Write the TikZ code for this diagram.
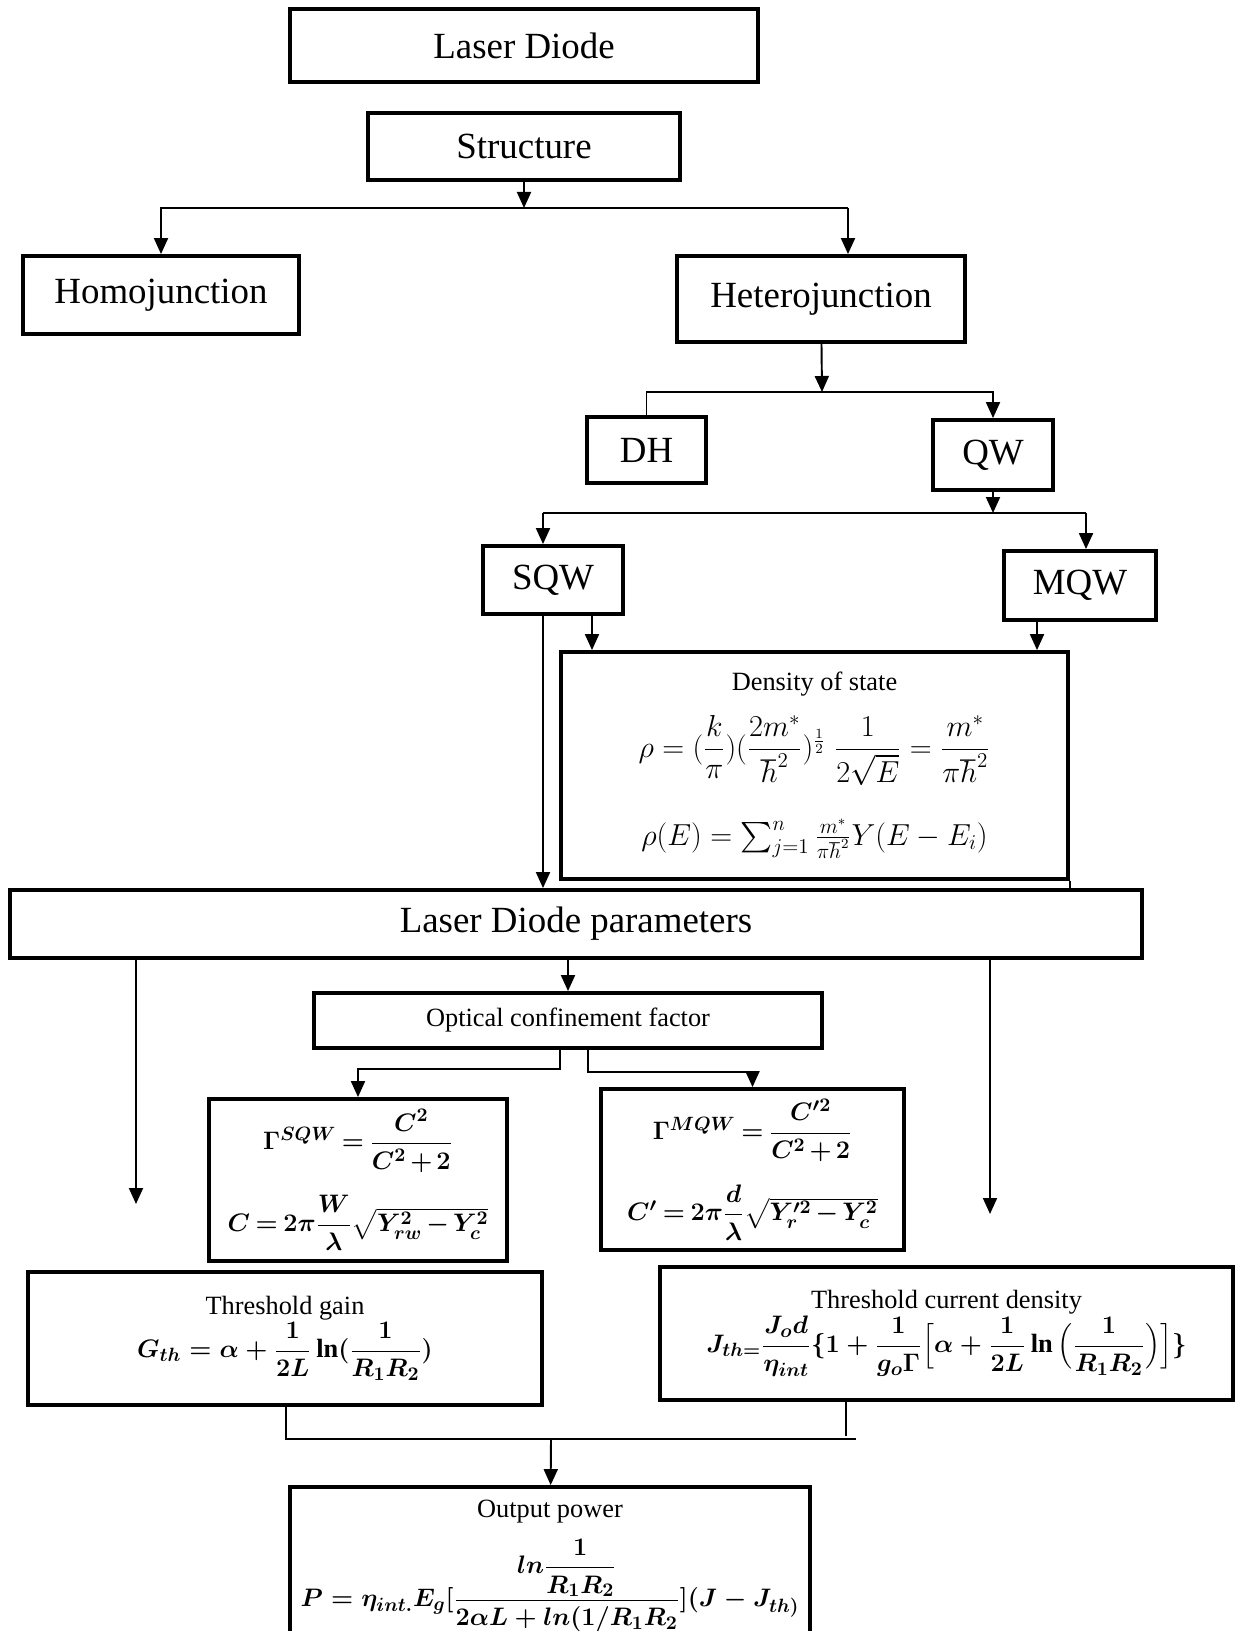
\documentclass[tikz,border=0pt]{standalone}
\usepackage{amsmath}
\usepackage{fontspec}
\setmainfont{Liberation Serif}
\usetikzlibrary{arrows.meta}

\begin{document}
\begin{tikzpicture}[
    x=0.02cm, y=-0.02cm,
    >={Triangle[length=0.32cm,width=0.28cm]},
    blk/.style={draw,line width=2.2pt,inner sep=0pt,font=\fontsize{21}{25}\selectfont},
    frm/.style={draw,line width=2.2pt,inner sep=0pt,align=center,font=\fontsize{15}{18}\selectfont},
    bfrm/.style={frm,font=\fontsize{15}{18}\selectfont\boldmath},
    tight/.style={execute at begin node={\medmuskip=2.5mu\thickmuskip=3.5mu}},
    flow/.style={->,line width=1.1pt},
    wire/.style={line width=1.1pt}
  ]
  \useasboundingbox (0,0) rectangle (1240,1631);
  \clip (0,0) rectangle (1240,1631);

  \node[blk,minimum width=9.36cm,minimum height=1.46cm] (laser) at (524,45.5) {Laser Diode};
  \node[blk,minimum width=6.24cm,minimum height=1.34cm] (struct) at (524,146.5) {Structure};
  \node[blk,minimum width=5.52cm,minimum height=1.56cm] (homo) at (161,295) {Homojunction};
  \node[blk,minimum width=5.76cm,minimum height=1.72cm] (hetero) at (821,299) {Heterojunction};
  \node[blk,minimum width=2.38cm,minimum height=1.32cm] (dh) at (646.5,450) {DH};
  \node[blk,minimum width=2.40cm,minimum height=1.40cm] (qw) at (993,455) {QW};
  \node[blk,minimum width=2.80cm,minimum height=1.36cm] (sqw) at (553,580) {SQW};
  \node[blk,minimum width=3.04cm,minimum height=1.38cm] (mqw) at (1080,585.5) {MQW};

  \node[frm,minimum width=10.14cm,minimum height=4.54cm] (dos) at (814.5,765.5) {Density of state\\[10pt]
    {\fontsize{17}{20}\selectfont$\rho=(\dfrac{k}{\pi})(\dfrac{2m^*}{\hbar^2})^{\frac{1}{2}}\;\dfrac{1}{2\sqrt{E}}=\dfrac{m^*}{\pi\hbar^2}$}\\[18pt]
    {\fontsize{17}{20}\selectfont$\rho(E)=\textstyle\sum_{j=1}^{n}\frac{m^*}{\pi\hbar^2}Y(E-E_i)$}};

  \node[blk,minimum width=22.64cm,minimum height=1.36cm] (ldp) at (576,924) {Laser Diode parameters};
  \node[frm,minimum width=10.16cm,minimum height=1.10cm] (ocf) at (568,1020.5) {Optical confinement factor};

  \node[bfrm,tight,minimum width=5.96cm,minimum height=3.24cm] (gsqw) at (358,1180) {%
    $\Gamma^{SQW}=\dfrac{C^2}{C^2+2}$\\[12pt]
    $C=2\pi\dfrac{W}{\lambda}\sqrt{Y_{rw}^2-Y_c^2}$};
  \node[bfrm,tight,minimum width=6.06cm,minimum height=3.22cm] (gmqw) at (752.5,1169.5) {%
    $\Gamma^{MQW}=\dfrac{C'^2}{C^2+2}$\\[12pt]
    $C'=2\pi\dfrac{d}{\lambda}\sqrt{Y_r'^2-Y_c^2}$};

  \node[bfrm,minimum width=10.28cm,minimum height=2.66cm] (gth) at (285,1338.5) {Threshold gain\\
    $G_{th}=\alpha+\dfrac{1}{2L}\ln(\dfrac{1}{R_1R_2})$};
  \node[bfrm,minimum width=11.46cm,minimum height=2.66cm] (jth) at (946.5,1333.5) {Threshold current density\\
    $J_{th=}\dfrac{J_od}{\eta_{int}}\{1+\dfrac{1}{g_o\Gamma}\Big[\alpha+\dfrac{1}{2L}\ln\Big(\dfrac{1}{R_1R_2}\Big)\Big]\}$};

  \node[bfrm,minimum width=10.40cm,minimum height=3.16cm] (pout) at (550,1566) {Output power\\[8pt]
    $P=\eta_{int.}E_g[\dfrac{ln\dfrac{1}{R_1R_2}}{2\alpha L+ln(1/R_1R_2}](J-J_{th)}$};

  % structure split
  \coordinate (sj) at (524,208);
  \coordinate (hr) at (848,208);
  \draw[flow] (struct) -- (sj);
  \draw[flow] (sj) -| (homo);
  \draw[wire] (sj) -- (hr);
  \draw[flow] (hr) -- (hr |- hetero.north);

  % heterojunction split
  \coordinate (hb) at (822,392);
  \draw[flow] (hetero) -- (hb);
  \draw[flow] (dh.north) |- (qw.north |- hb) -- (qw.north);

  % quantum well split
  \coordinate (qb) at (993,513);
  \coordinate (ql) at (543,513);
  \coordinate (qr) at (1086,513);
  \draw[flow] (qw) -- (qb);
  \draw[wire] (ql) -- (qr);
  \draw[flow] (ql) -- (ql |- sqw.north);
  \draw[flow] (qr) -- (qr |- mqw.north);

  \draw[flow] (ql |- sqw.south) -- (ql |- ldp.north);
  \draw[flow] ([xshift=0.78cm]sqw.south) -- ([xshift=0.78cm]sqw.south |- dos.north);
  \draw[flow] ([xshift=-0.86cm]mqw.south) -- ([xshift=-0.86cm]mqw.south |- dos.north);
  \draw[wire] (dos.south east) -- (dos.south east |- ldp.north);

  % parameters
  \coordinate (gl) at (136,1204);
  \coordinate (jl) at (990,1214);
  \draw[flow] (ldp.south -| gl) -- (gl);
  \draw[flow] (ldp.south -| jl) -- (jl);
  \draw[flow] (ldp.south -| ocf) -- (ocf);

  \coordinate (ol) at (560,1069);
  \coordinate (or) at (588,1072);
  \draw[flow] (ol |- ocf.south) -- (ol) -| (gsqw);
  \draw[flow] (or |- ocf.south) -- (or) -| (gmqw);

  % merge to output power
  \coordinate (ml) at (286,1439);
  \coordinate (mr) at (856,1439);
  \coordinate (mc) at (551,1439);
  \coordinate (mj) at (846,1436);
  \draw[wire] (ml |- gth.south) -- (ml) -- (mr);
  \draw[wire] (mj |- jth.south) -- (mj);
  \draw[flow] (mc) -- (pout);
\end{tikzpicture}
\end{document}
